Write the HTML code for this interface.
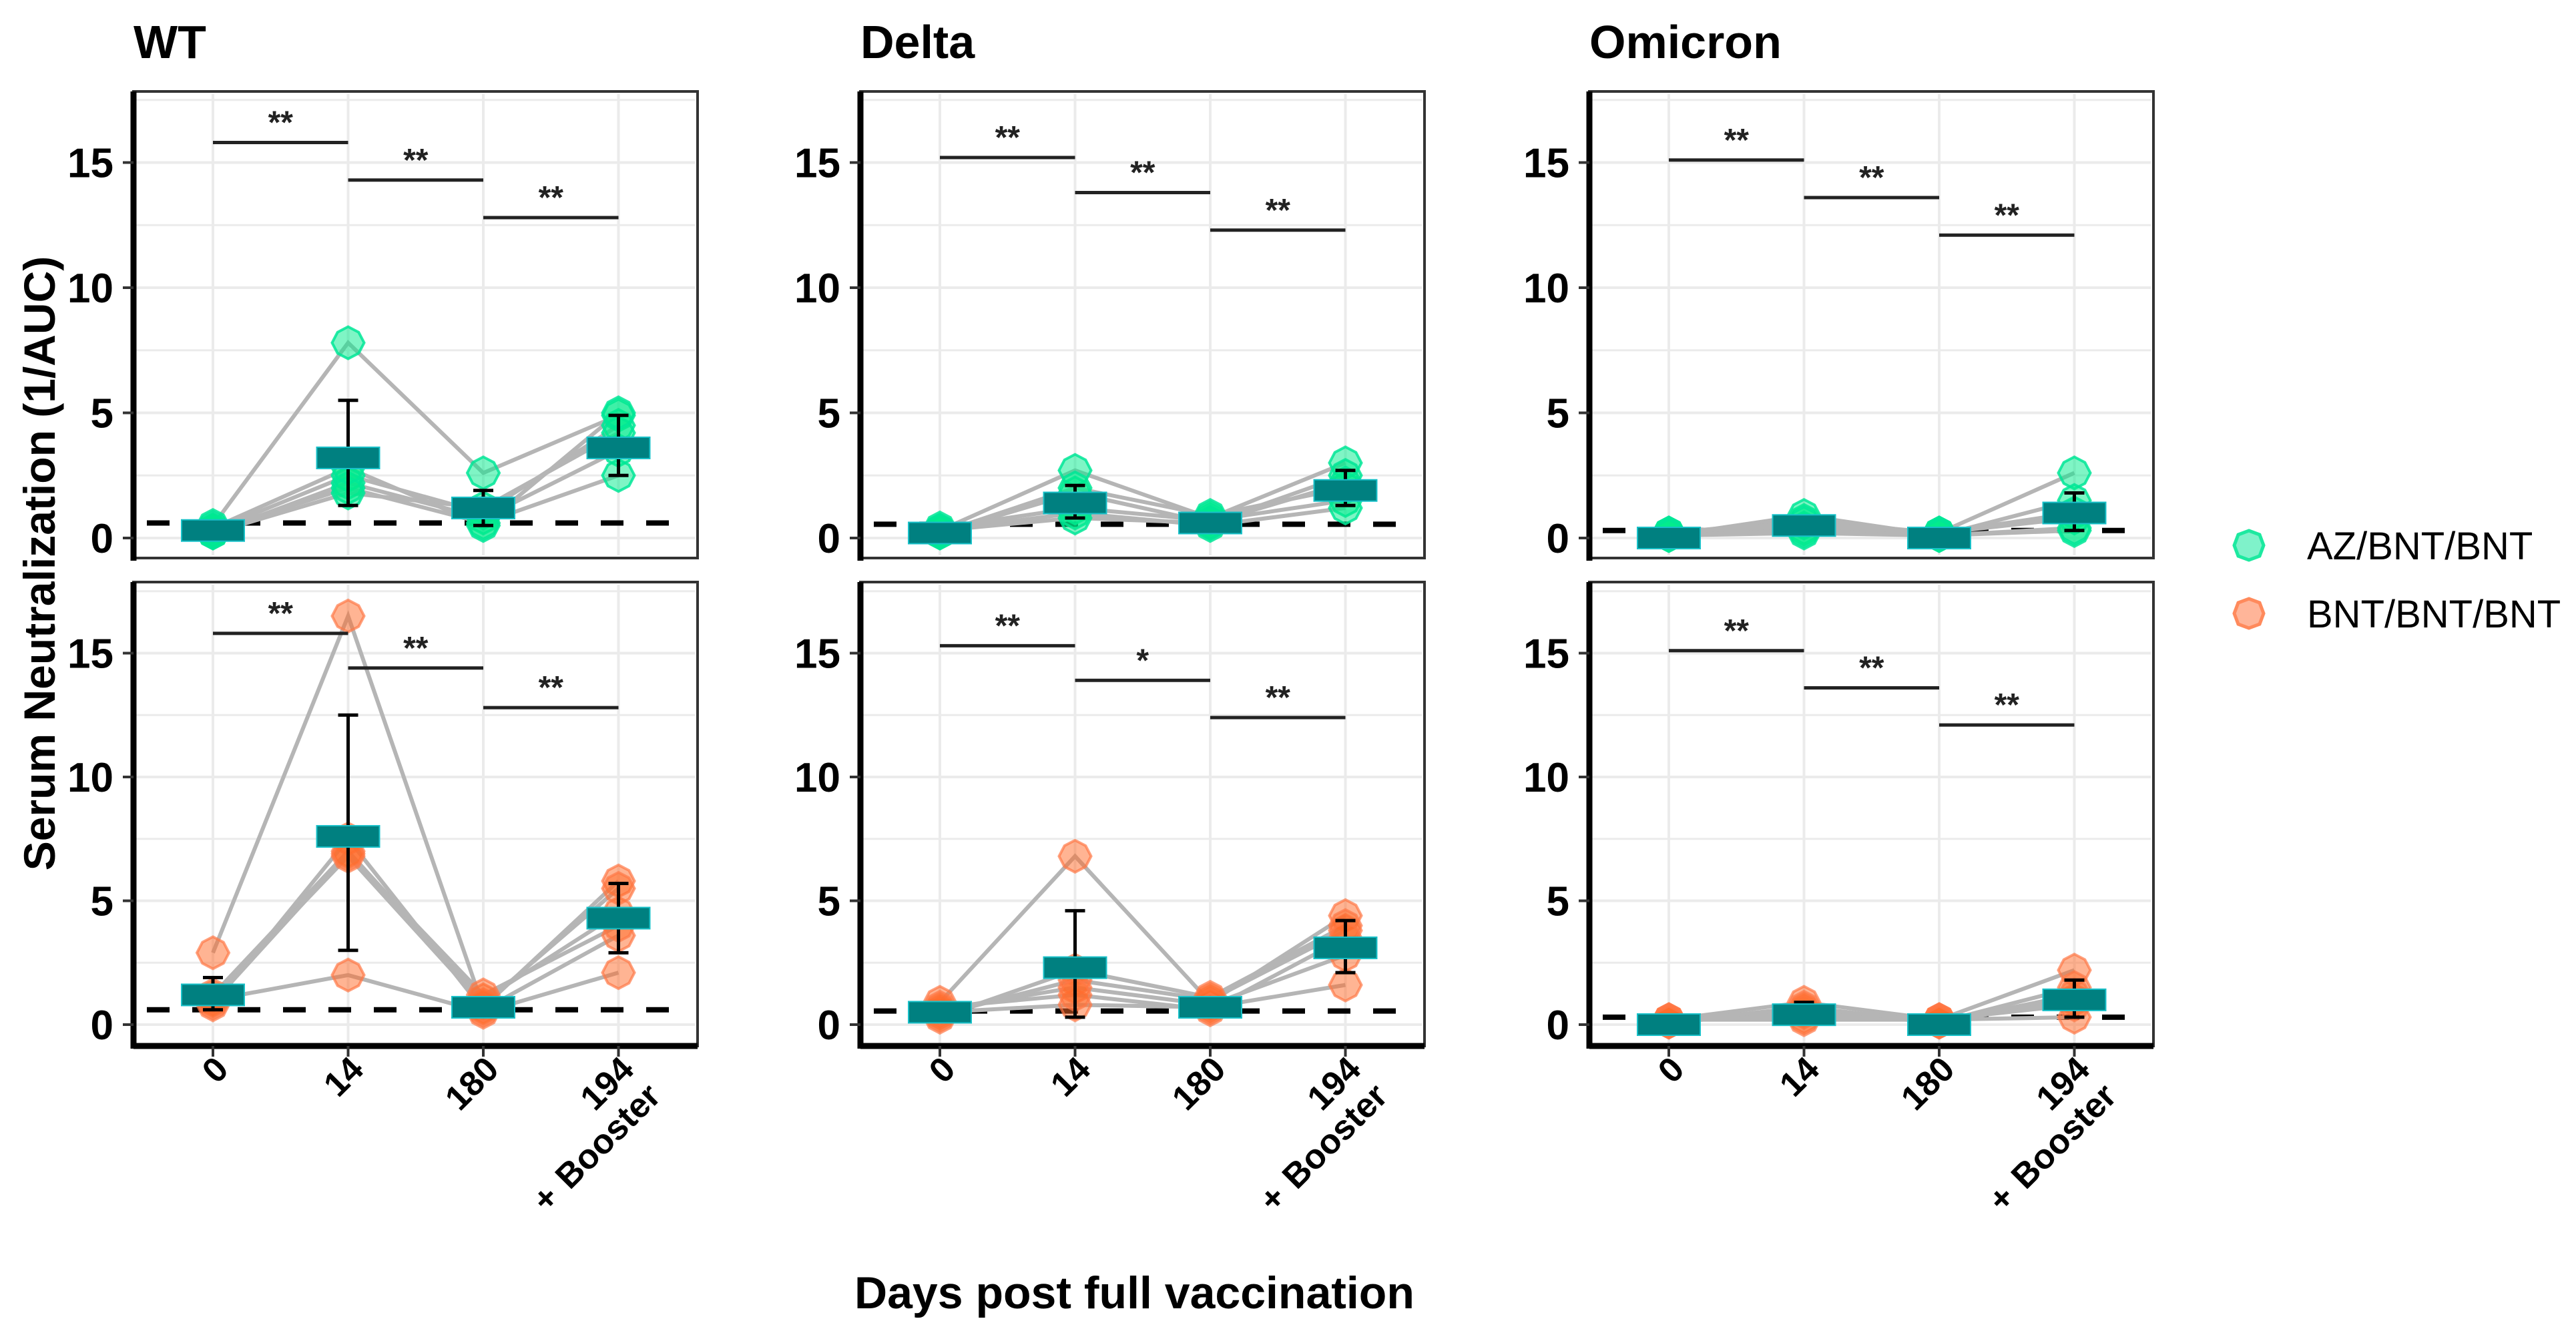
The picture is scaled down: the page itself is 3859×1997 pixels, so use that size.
<!DOCTYPE html>
<html><head><meta charset="utf-8"><style>
html,body{margin:0;padding:0;background:#fff;}
svg{display:block;font-family:"Liberation Sans",Arial,sans-serif;}
</style></head><body>
<svg id="chart" width="3859" height="1997" viewBox="0 0 3859 1997" xmlns="http://www.w3.org/2000/svg">
<rect x="0" y="0" width="3859" height="1997" fill="#fff"/>
<text transform="translate(82,844) rotate(-90)" text-anchor="middle" font-size="66" font-weight="bold">Serum Neutralization (1/AUC)</text>
<text x="1280" y="1960" font-size="68" font-weight="bold">Days post full vaccination</text>
<g>
<polygon points="3369,795 3385,801 3391,817 3385,833 3369,839 3353,833 3347,817 3353,801" fill="rgba(0,230,150,0.5)" stroke="#1de9a0" stroke-width="5"/>
<text x="3456" y="838" font-size="58">AZ/BNT/BNT</text>
<polygon points="3369,897 3385,903 3391,919 3385,935 3369,941 3353,935 3347,919 3353,903" fill="rgba(255,120,70,0.55)" stroke="#ff8a5c" stroke-width="5"/>
<text x="3456" y="940" font-size="58">BNT/BNT/BNT</text>
</g>
</svg>
<script>
const variants = ["WT","Delta","Omicron"];
const xLabels = ["0","14","180","194"];
const yTicks = [0,5,10,15];
const wtAZ = [[0.5,7.8,2.6,4.9],[0.3,2.5,1.0,4.5],[0.2,2.2,0.8,3.5],[0.3,2.0,0.6,2.5],[0.2,1.8,1.2,4.2],[0.4,2.8,0.5,5.0]];
const wtBNT = [[2.9,16.5,0.7,5.8],[1.0,2.0,0.5,2.1],[1.2,7.0,1.0,4.5],[0.8,7.5,0.6,3.6],[1.1,6.8,0.8,5.5],[0.9,6.9,1.2,4.0]];
const deltaAZ = [[0.3,2.7,0.8,3.0],[0.2,1.8,0.6,2.5],[0.4,1.2,0.7,1.5],[0.3,1.0,0.5,1.2],[0.2,2.0,0.9,2.0],[0.3,0.8,0.6,2.2]];
const deltaBNT = [[0.9,6.8,0.9,4.4],[0.5,0.8,0.7,1.6],[0.4,1.8,1.0,3.8],[0.6,1.5,0.8,2.8],[0.3,2.2,1.1,4.0],[0.7,1.2,0.6,3.5]];
const omiAZ = [[0.2,0.7,0.2,2.6],[0.1,0.9,0.1,1.5],[0.2,0.4,0.2,1.0],[0.1,0.3,0.1,0.3],[0.2,0.6,0.2,0.8],[0.1,0.2,0.1,0.4]];
const omiBNT = [[0.2,0.9,0.2,2.2],[0.1,0.6,0.1,1.5],[0.2,0.3,0.2,0.3],[0.1,0.5,0.1,1.0],[0.2,0.2,0.2,0.8],[0.1,0.7,0.1,1.2]];
const medians = [[0.3,3.2,1.2,3.6],[1.2,7.6,0.7,4.3],[0.2,1.4,0.6,1.9],[0.5,2.3,0.7,3.1],[0.0,0.5,0.0,1.0],[0.0,0.4,0.0,1.0]];
const errLo = [[0.2,1.3,0.5,2.5],[0.6,3.0,0.4,2.9],[0.1,0.8,0.5,1.3],[0.3,0.3,0.5,2.1],[0.0,0.2,0.0,0.3],[0.0,0.1,0.0,0.3]];
const errHi = [[0.4,5.5,1.9,4.9],[1.9,12.5,1.0,5.7],[0.3,2.1,0.8,2.7],[0.7,4.6,0.9,4.2],[0.1,0.8,0.1,1.8],[0.1,0.9,0.1,1.8]];
const thresholds = [0.6,0.6,0.55,0.55,0.3,0.3];
const bracketY = [[15.8,14.3,12.8],[15.8,14.4,12.8],[15.2,13.8,12.3],[15.3,13.9,12.4],[15.1,13.6,12.1],[15.1,13.6,12.1]];
const bracketLbl = [["**","**","**"],["**","**","**"],["**","**","**"],["**","*","**"],["**","**","**"],["**","**","**"]];

const subjects = [wtAZ, wtBNT, deltaAZ, deltaBNT, omiAZ, omiBNT];
const NS = "http://www.w3.org/2000/svg";
const svg = document.getElementById("chart");
const panelL = [200,1289,2381];
const panelW = 845;
const rows = [{top:137,bot:836,y0:806,k:37.5},{top:872,bot:1567,y0:1535,k:37.1}];
function mk(tag, attrs, parent){const e=document.createElementNS(NS,tag);for(const a in attrs)e.setAttribute(a,attrs[a]);(parent||svg).appendChild(e);return e;}
function marker(cx,cy,r){const pts=[];for(let k=0;k<8;k++){const a=Math.PI/4*k;const rr=(k%2===0)?r:r*0.93;pts.push([cx+rr*Math.sin(a),cy-rr*Math.cos(a)].join(","));}return pts.join(" ");}

for(let c=0;c<3;c++){
  const L=panelL[c];
  const xS=i=>L+119+202.5*i;
  const t=mk("text",{x:L,y:87,"font-size":70,"font-weight":"bold"});
  
  
  t.textContent=variants[c];
  for(let r=0;r<2;r++){
    const p=c*2+r; const R=rows[r];
    const yS=v=>R.y0-R.k*v;
    const g=mk("g",{});
    
    
    for(let v=0;v<=17.5;v+=2.5){const ln=mk("line",{x1:L+4,x2:L+panelW-4,y1:yS(v),y2:yS(v),stroke:"#ebebeb","stroke-width":v%5===0?4:3},g);}
    for(let i=0;i<4;i++){const ln=mk("line",{x1:xS(i),x2:xS(i),y1:R.top+4,y2:R.bot-4,stroke:"#ebebeb","stroke-width":4},g);}
    const b=mk("rect",{x:L,y:R.top,width:panelW,height:R.bot-R.top,fill:"none",stroke:"#333","stroke-width":4},g);
    
    const ya=mk("line",{x1:L,x2:L,y1:R.top,y2:R.bot+4,stroke:"#000","stroke-width":9},g);
    
    if(r===1){const xa=mk("line",{x1:L,x2:L+panelW,y1:R.bot,y2:R.bot,stroke:"#000","stroke-width":9},g);}
    yTicks.forEach(v=>{
      const tk=mk("line",{x1:L-16,x2:L,y1:yS(v),y2:yS(v),stroke:"#333","stroke-width":4},g);
      
      const tl=mk("text",{x:L-30,y:yS(v)+22,"text-anchor":"end","font-size":62,"font-weight":"bold"},g);
      
      tl.textContent=v;
    });
    const th=mk("line",{x1:L+20,x2:L+panelW-20,y1:yS(thresholds[p]),y2:yS(thresholds[p]),stroke:"#000","stroke-width":8,"stroke-dasharray":"34,34"},g);
    
    subjects[p].forEach(s=>{
      const pl=mk("polyline",{points:s.map((v,i)=>xS(i)+","+yS(v)).join(" "),fill:"none",stroke:"#b5b5b5","stroke-width":6},g);
      
    });
    subjects[p].forEach(s=>s.forEach((v,i)=>{
      const pt=mk("polygon",{points:marker(xS(i),yS(v),24),fill:r?"rgba(255,105,40,0.5)":"rgba(0,235,140,0.5)",stroke:r?"rgba(255,120,70,0.7)":"rgba(0,230,150,0.85)","stroke-width":4},g);
      
    }));
    for(let i=0;i<4;i++){
      const e1=mk("line",{x1:xS(i),x2:xS(i),y1:yS(errLo[p][i]),y2:yS(errHi[p][i]),stroke:"#000","stroke-width":5},g);
      
      [errLo[p][i],errHi[p][i]].forEach(v=>{const cp=mk("line",{x1:xS(i)-15,x2:xS(i)+15,y1:yS(v),y2:yS(v),stroke:"#000","stroke-width":5},g);});
      const m=mk("rect",{x:xS(i)-47,y:yS(medians[p][i])-16,width:94,height:32,fill:"#008080",stroke:"#18c0c8","stroke-width":2},g);
      
    }
    for(let j=0;j<3;j++){
      const by=yS(bracketY[p][j]);
      const bl=mk("line",{x1:xS(j),x2:xS(j+1),y1:by,y2:by,stroke:"#222","stroke-width":5},g);
      
      const st=mk("text",{x:(xS(j)+xS(j+1))/2,y:by-14,"text-anchor":"middle","font-size":48,"font-weight":"bold",fill:"#222"},g);
      
      st.textContent=bracketLbl[p][j];
    }
    if(r===1){
      for(let i=0;i<4;i++){
        const tk=mk("line",{x1:xS(i),x2:xS(i),y1:R.bot,y2:R.bot+16,stroke:"#333","stroke-width":4},g);
        
        const xl=mk("text",{transform:"translate("+(xS(i)+26)+","+(R.bot+38)+") rotate(-45)","text-anchor":"end","font-size":52,"font-weight":"bold"},g);
        
        xl.textContent=xLabels[i];
        if(i===3){
          const xl2=mk("text",{transform:"translate("+(xS(i)+66)+","+(R.bot+78)+") rotate(-45)","text-anchor":"end","font-size":52,"font-weight":"bold","word-spacing":"4"},g);
          
          xl2.textContent="+ Booster";
        }
      }
    }
  }
}
</script>
</body></html>
